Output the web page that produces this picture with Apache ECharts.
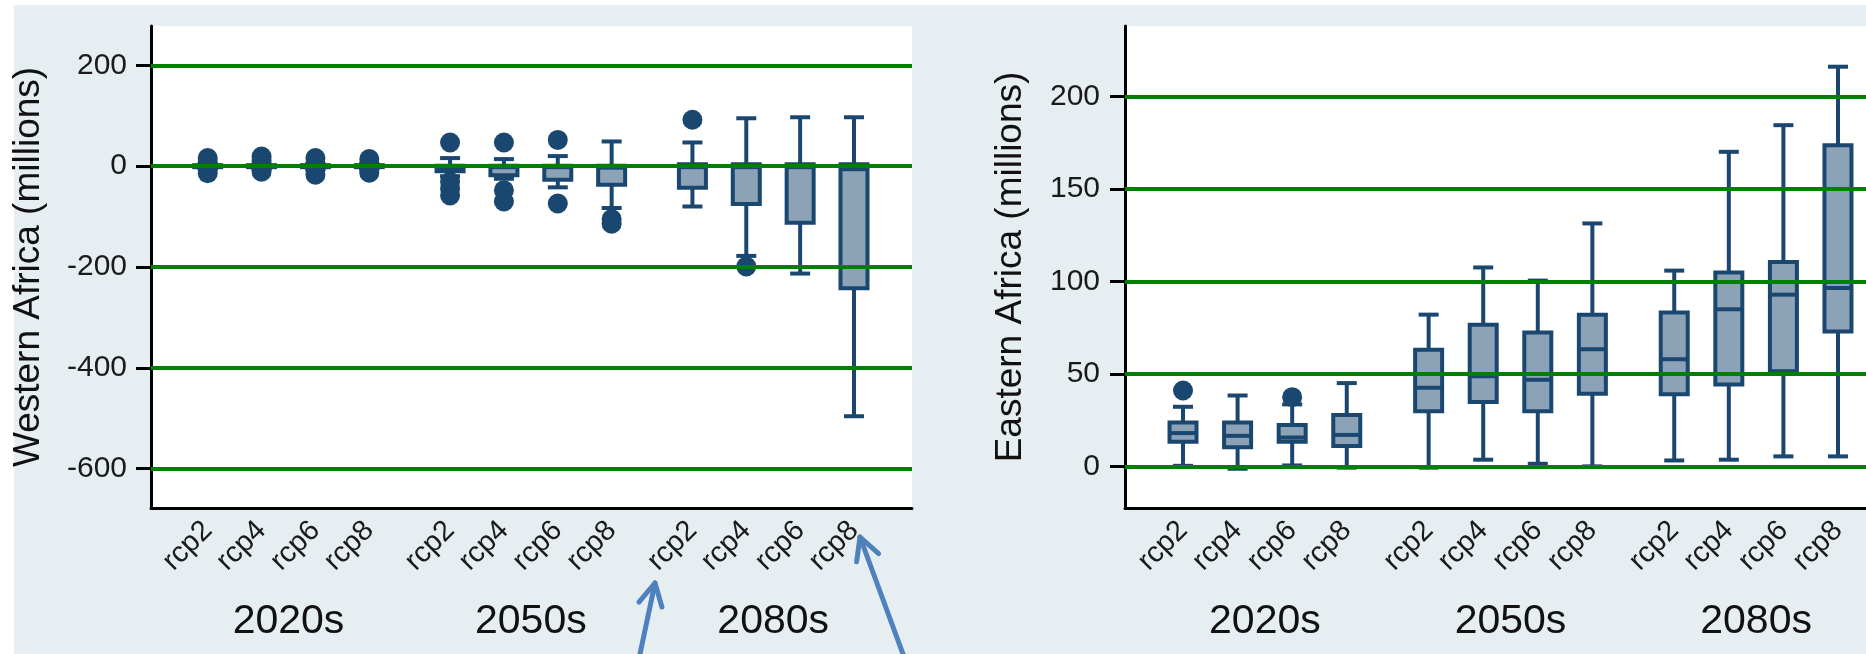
<!DOCTYPE html>
<html><head><meta charset="utf-8">
<script src="https://cdn.jsdelivr.net/npm/echarts@6/dist/echarts.min.js"></script>
<style>html,body{margin:0;padding:0;background:#fff}#c{width:1866px;height:654px}</style>
</head><body><div id="c"></div>
<script>
// ---------- data ----------
const scenarios = ['rcp2', 'rcp4', 'rcp6', 'rcp8'];
const periods = ['2020s', '2050s', '2080s'];
const westTicks = [200, 0, -200, -400, -600];
const eastTicks = [0, 50, 100, 150, 200];
const westTitle = 'Western Africa (millions)';
const eastTitle = 'Eastern Africa (millions)';

// Western Africa: 12 boxes (2020s rcp2..rcp8, 2050s ..., 2080s ...)
const westLow  = [-5, -5, -5, -5,   -20, -25, -42, -83,   -80, -178, -213, -496];
const westQ1   = [-2, -2, -2, -2,   -10, -18, -27, -37,   -43,  -75, -112, -242];
const westMed  = [ 0,  0,  0,  0,    -4,  -2,  -2,  -3,    -2,   -2,   -2,   -6];
const westQ3   = [ 2,  2,  2,  2,     1,   1,   1,   1,     4,    4,    4,    4];
const westHigh = [ 4,  4,  4,  4,    16,  14,  20,  49,    47,   95,   97,   97];
const westOut  = [[16, 7, -6, -14], [19, 11, -4, -11], [16, 6, -8, -17], [14, 6, -6, -13],
                  [47, -31, -45, -58], [47, -48, -70], [52, -74], [-105, -114],
                  [92], [-199], [], []];

// Eastern Africa
const eastLow  = [0.3, -1.3, 0.5, -0.7,   -0.7,  3.6,  1.4,   0,     3.2,   3.6,   5.4,   5.4];
const eastQ1   = [13.3, 10.3, 13.3, 11,   29.8, 34.8, 29.8,  39.3,  39,    44.2,  51.4,  72.9];
const eastMed  = [18, 16.5, 15.6, 17,      42.5, 48.7, 46.8,  63.3,  57.9,  84.9,  92.8,  96.4];
const eastQ3   = [23.7, 23.7, 22.3, 27.7,  63,   76.5, 72.4,  82,    83.2, 104.8, 110.5, 173.5];
const eastHigh = [32.2, 38.3, 33.5, 45,    82,  107.5, 100.4, 131.3, 105.8, 170,  184.4, 216];
const eastOut  = [[41], [], [37.4], [], [], [], [], [], [], [], [], []];

// ---------- layout helpers ----------
const GROUP_STEP = 4.5;
const boxX = [];
periods.forEach((p, g) => scenarios.forEach((s, k) => boxX.push(g * GROUP_STEP + k)));
const groupX = periods.map((p, g) => g * GROUP_STEP + (scenarios.length - 1) / 2);
const labelOf = v => { const i = boxX.findIndex(x => Math.abs(x - v) < 1e-6); return i < 0 ? '' : scenarios[i % scenarios.length]; };
const groupOf = v => { const i = groupX.findIndex(x => Math.abs(x - v) < 1e-6); return i < 0 ? '' : periods[i]; };

const NAVY = '#1a476f', FILL = '#8ca2b7', GREEN = '#008000';
const FONT = "'Liberation Sans', Arial, sans-serif";

function boxData(lo, q1, md, q3, hi) {
  return lo.map((v, i) => [boxX[i], lo[i], q1[i], md[i], q3[i], hi[i]]);
}
function outData(out) {
  const r = [];
  out.forEach((arr, i) => arr.forEach(v => r.push([boxX[i], v])));
  return r;
}
function renderBox(params, api) {
  const x = api.value(0);
  const lo = api.coord([x, api.value(1)]);
  const q1 = api.coord([x, api.value(2)]);
  const md = api.coord([x, api.value(3)]);
  const q3 = api.coord([x, api.value(4)]);
  const hi = api.coord([x, api.value(5)]);
  const cx = lo[0], bw = 27, cw = 20, lw = 4;
  const ls = { stroke: NAVY, lineWidth: lw };
  return {
    type: 'group',
    children: [
      { type: 'line', shape: { x1: cx, y1: hi[1], x2: cx, y2: q3[1] }, style: ls },
      { type: 'line', shape: { x1: cx, y1: q1[1], x2: cx, y2: lo[1] }, style: ls },
      { type: 'line', shape: { x1: cx - cw / 2, y1: hi[1], x2: cx + cw / 2, y2: hi[1] }, style: ls },
      { type: 'line', shape: { x1: cx - cw / 2, y1: lo[1], x2: cx + cw / 2, y2: lo[1] }, style: ls },
      { type: 'rect', shape: { x: cx - bw / 2, y: q3[1], width: bw, height: q1[1] - q3[1] }, style: { fill: FILL, stroke: NAVY, lineWidth: lw } },
      { type: 'line', shape: { x1: cx - bw / 2, y1: md[1], x2: cx + bw / 2, y2: md[1] }, style: ls }
    ]
  };
}

function xAxes(gridIndex, min, max) {
  return [
    {
      type: 'value', gridIndex, min, max, position: 'bottom',
      axisLine: { show: true, onZero: false, lineStyle: { color: '#000', width: 3 } },
      axisTick: { show: false },
      splitLine: { show: false },
      axisLabel: { customValues: boxX, formatter: labelOf, rotate: 45, margin: 18, fontSize: 29, color: '#1a1a1a', fontFamily: FONT }
    },
    {
      type: 'value', gridIndex, min, max, position: 'bottom',
      axisLine: { show: false, onZero: false }, axisTick: { show: false }, splitLine: { show: false },
      axisLabel: { customValues: groupX, formatter: groupOf, margin: 93, fontSize: 41, color: '#111', fontFamily: FONT }
    }
  ];
}
function yAxis(gridIndex, min, max, ticks, name, nameGap, margin) {
  return {
    type: 'value', gridIndex, min, max, name, nameLocation: 'middle', nameGap,
    nameTextStyle: { fontSize: 37, color: '#111', fontFamily: FONT },
    axisLine: { show: true, onZero: false, lineStyle: { color: '#000', width: 3 } },
    axisTick: { show: true, customValues: ticks, length: 15, lineStyle: { color: '#000', width: 3 } },
    axisLabel: { customValues: ticks, margin, fontSize: 30, color: '#1a1a1a', fontFamily: FONT },
    splitLine: { show: false }
  };
}
function gridLines(idx, ticks) {
  return {
    type: 'line', xAxisIndex: idx * 2, yAxisIndex: idx, data: [], z: 1,
    markLine: { silent: true, symbol: ['none', 'none'], label: { show: false },
      lineStyle: { color: GREEN, width: 4, type: 'solid' }, data: ticks.map(v => ({ yAxis: v })) }
  };
}

function arrow(x0, y0, x1, y1) {
  const dx = x0 - x1, dy = y0 - y1, L = Math.hypot(dx, dy);
  const ux = dx / L, uy = dy / L, len = 25, a = 28 * Math.PI / 180;
  const r = (s) => [x1 + len * (ux * Math.cos(s) - uy * Math.sin(s)), y1 + len * (ux * Math.sin(s) + uy * Math.cos(s))];
  const st = { stroke: '#4f81bd', lineWidth: 5, lineCap: 'round', lineJoin: 'round', fill: null };
  return [
    { type: 'polyline', shape: { points: [[x0, y0], [x1, y1]] }, style: st, z: 100 },
    { type: 'polyline', shape: { points: [r(a), [x1, y1], r(-a)] }, style: st, z: 100 }
  ];
}

const chart = echarts.init(document.getElementById('c'), null, { renderer: 'canvas' });
chart.setOption({
  animation: false,
  backgroundColor: '#e7eef1',
  grid: [
    { left: 151, top: 26, width: 761, height: 482, show: true, backgroundColor: '#fff', borderWidth: 0, outerBoundsMode: 'none', containLabel: false },
    { left: 1125, top: 26, width: 771, height: 482, show: true, backgroundColor: '#fff', borderWidth: 0, outerBoundsMode: 'none', containLabel: false }
  ],
  xAxis: [...xAxes(0, -1.053, 13.077), ...xAxes(1, -1.063, 13.063)],
  yAxis: [
    yAxis(0, -678, 278, westTicks, westTitle, 104, 24),
    yAxis(1, -22.5, 238, eastTicks, eastTitle, 96, 25)
  ],
  graphic: [
    { type: 'rect', shape: { x: 0, y: 0, width: 1866, height: 5 }, style: { fill: '#fff' }, silent: true },
    { type: 'rect', shape: { x: 0, y: 0, width: 14, height: 654 }, style: { fill: '#fff' }, silent: true },
    ...arrow(640, 654, 655, 583),
    ...arrow(903, 654, 860, 537)
  ],
  series: [
    gridLines(0, westTicks),
    { type: 'custom', xAxisIndex: 0, yAxisIndex: 0, z: 3, renderItem: renderBox,
      data: boxData(westLow, westQ1, westMed, westQ3, westHigh), encode: { x: 0, y: [1, 2, 3, 4, 5] } },
    { type: 'scatter', xAxisIndex: 0, yAxisIndex: 0, z: 4, symbolSize: 20, itemStyle: { color: NAVY, opacity: 1 },
      data: outData(westOut) },
    gridLines(1, eastTicks),
    { type: 'custom', xAxisIndex: 2, yAxisIndex: 1, z: 3, renderItem: renderBox,
      data: boxData(eastLow, eastQ1, eastMed, eastQ3, eastHigh), encode: { x: 0, y: [1, 2, 3, 4, 5] } },
    { type: 'scatter', xAxisIndex: 2, yAxisIndex: 1, z: 4, symbolSize: 20, itemStyle: { color: NAVY, opacity: 1 },
      data: outData(eastOut) }
  ]
});
</script></body></html>
